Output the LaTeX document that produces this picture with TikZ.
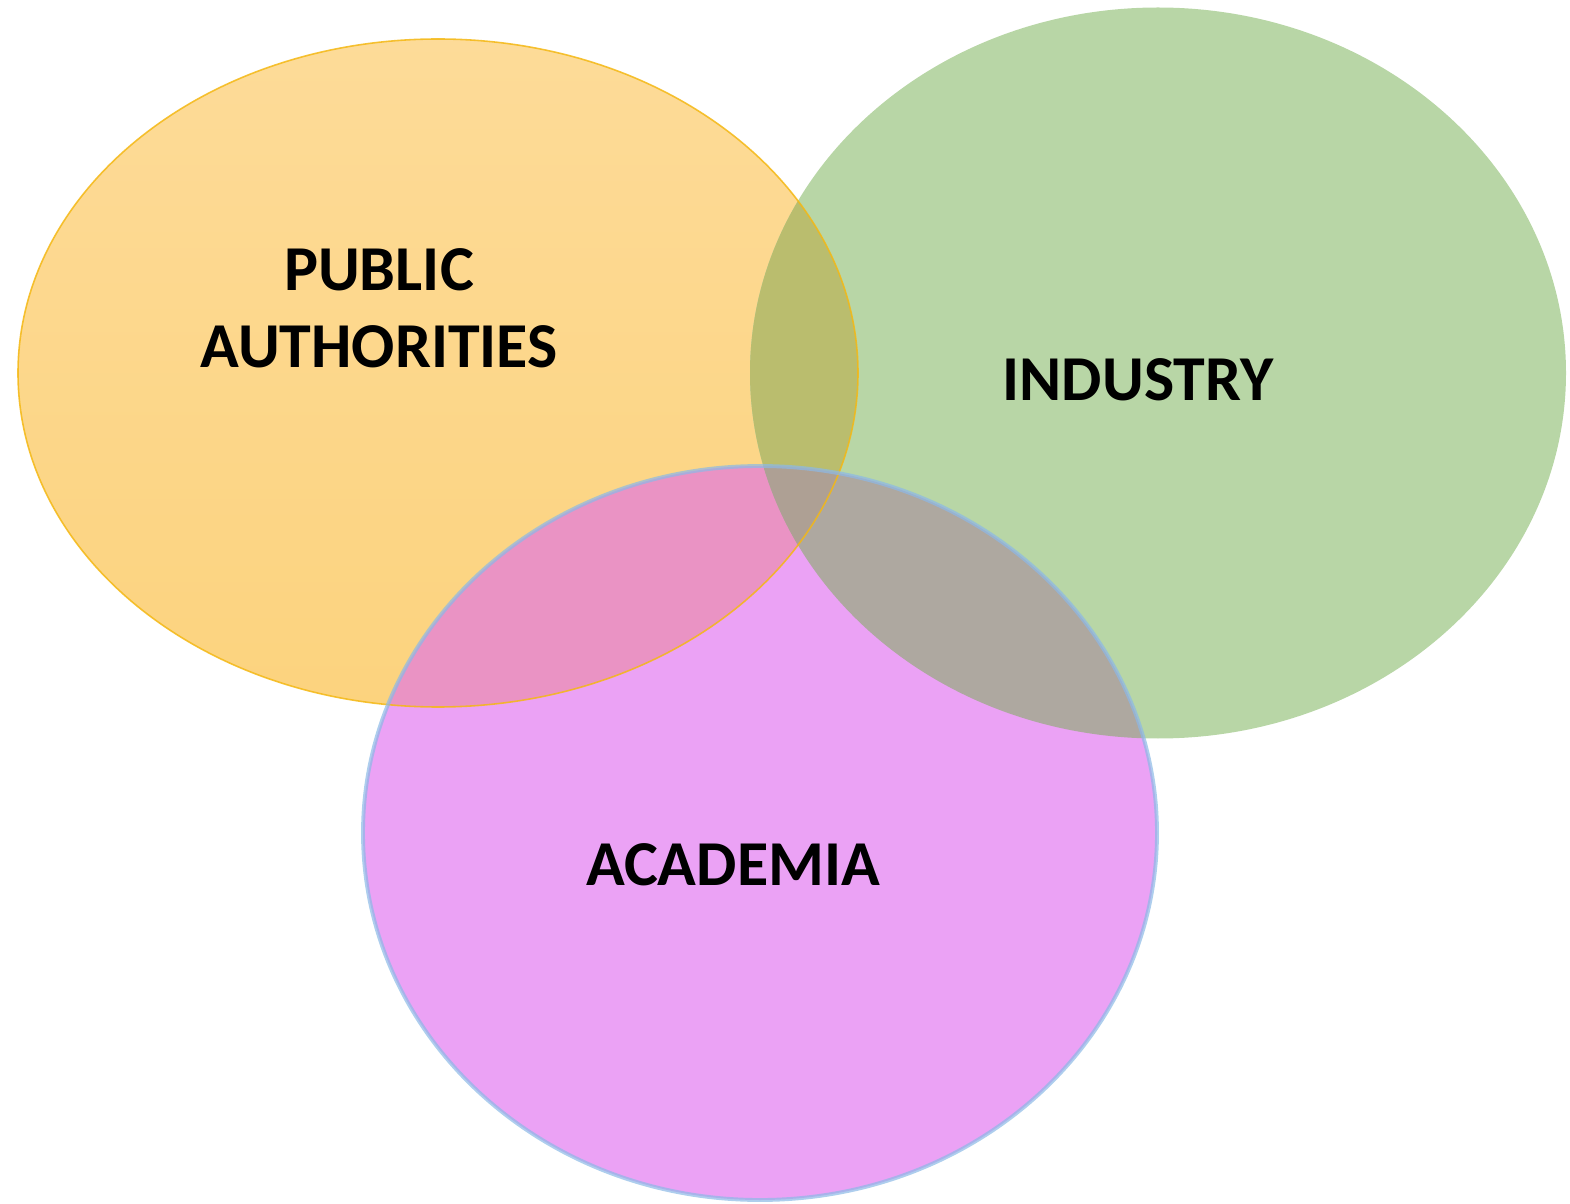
\documentclass[tikz,border=0pt]{standalone}
\usepackage{fontspec}
\setmainfont{Carlito}

% fill colours of the three sets and of their overlaps
\definecolor{pubtop}{RGB}{253,219,152}
\definecolor{pubbot}{RGB}{252,211,126}
\definecolor{pubedge}{RGB}{244,184,20}
\definecolor{indfill}{RGB}{184,214,166}
\definecolor{acafill}{RGB}{235,162,245}
\definecolor{acaedge}{RGB}{140,185,230}
\definecolor{pubind}{RGB}{186,189,110}
\definecolor{pubaca}{RGB}{234,147,196}
\definecolor{indaca}{RGB}{174,168,160}
\definecolor{allthree}{RGB}{174,160,148}

% the three ellipses
\newcommand\pubpath{(4.38,8.30) ellipse [x radius=4.20, y radius=3.34]}
\newcommand\indpath{(11.58,8.30) ellipse [x radius=4.08, y radius=3.655]}
\newcommand\acapath{(7.60,3.70) ellipse [x radius=3.97, y radius=3.67]}

\begin{document}
\begin{tikzpicture}[
    setlabel/.style={font=\bfseries\fontsize{18.2}{21.8}\selectfont, align=center, text=black}
  ]
    \useasboundingbox (0,0) rectangle (15.70,12.03);

    % plain sets
    \shade[top color=pubtop, bottom color=pubbot] \pubpath;
    \fill[indfill] \indpath;
    \fill[acafill] \acapath;

    % overlaps
    \begin{scope}
      \clip \pubpath;
      \fill[pubind] \indpath;
      \fill[pubaca] \acapath;
    \end{scope}
    \begin{scope}
      \clip \indpath;
      \fill[indaca] \acapath;
    \end{scope}
    \begin{scope}
      \clip \pubpath;
      \clip \indpath;
      \fill[allthree] \acapath;
    \end{scope}

    % rims
    \draw[pubedge, line width=0.45pt, draw opacity=0.85] \pubpath;
    \draw[acaedge, line width=1.1pt, draw opacity=0.7] \acapath;

    % labels
    \node[setlabel] (pub) at (3.79,8.95) {PUBLIC\\AUTHORITIES};
    \node[setlabel] (ind) at (11.38,8.23) {INDUSTRY};
    \node[setlabel] (aca) at (7.33,3.38) {ACADEMIA};
\end{tikzpicture}
\end{document}
